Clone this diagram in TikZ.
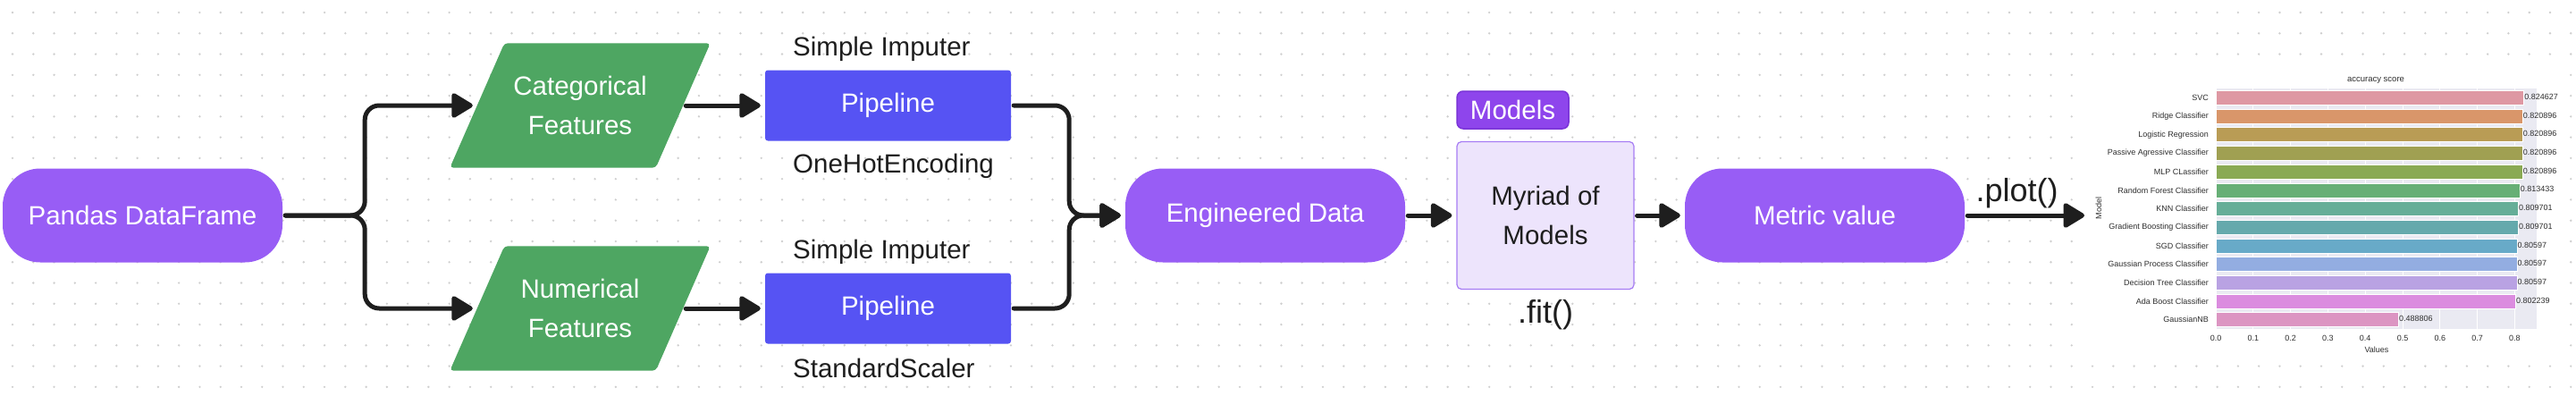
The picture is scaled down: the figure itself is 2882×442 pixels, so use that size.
\documentclass[tikz,border=0pt]{standalone}
\usepackage{fontspec}
\setmainfont{Liberation Sans}
\usepackage{xcolor}
\usetikzlibrary{arrows.meta,positioning,backgrounds}
\definecolor{ink}{HTML}{1E1E1E}
\definecolor{termpurple}{HTML}{985DF5}
\definecolor{featgreen}{HTML}{4EA662}
\definecolor{pipeblue}{HTML}{5653F3}
\definecolor{tagpurple}{HTML}{8E45EC}
\definecolor{tagedge}{HTML}{7A34D8}
\definecolor{lavender}{HTML}{EDE4FC}
\definecolor{lavedge}{HTML}{A67CF4}
\definecolor{dotgrey}{HTML}{CFCFCF}
\definecolor{axisbg}{HTML}{EAEAF2}
\definecolor{chartink}{HTML}{2E2E2E}
\definecolor{barA}{HTML}{DE98A3}
\definecolor{barB}{HTML}{D9966A}
\definecolor{barC}{HTML}{B99C55}
\definecolor{barD}{HTML}{A0A052}
\definecolor{barE}{HTML}{8AAA54}
\definecolor{barF}{HTML}{67AF76}
\definecolor{barG}{HTML}{66AE98}
\definecolor{barH}{HTML}{65A9AC}
\definecolor{barI}{HTML}{68AAC8}
\definecolor{barJ}{HTML}{93ADE1}
\definecolor{barK}{HTML}{B9A2E3}
\definecolor{barL}{HTML}{DB8CDF}
\definecolor{barM}{HTML}{DC95C2}
\newcommand{\flowfont}{\fontsize{29.5pt}{44pt}\selectfont}
\newcommand{\callfont}{\fontsize{36pt}{40pt}\selectfont}
\newcommand{\chartfont}{\fontsize{9pt}{11pt}\selectfont}
\tikzset{
  term/.style={fill=termpurple,rounded corners=42pt,minimum width=313pt,minimum height=105pt,
    inner sep=0pt,text=white,font=\flowfont},
  feat/.style={minimum width=230pt,minimum height=139pt,inner sep=0pt,text=white,align=center,font=\flowfont},
  pipe/.style={fill=pipeblue,rounded corners=3pt,minimum width=275pt,minimum height=79pt,
    inner sep=0pt,text=white,font=\flowfont},
  tag/.style={fill=tagpurple,draw=tagedge,line width=1.5pt,rounded corners=7pt,minimum width=125pt,
    minimum height=42pt,inner sep=0pt,text=white,font=\flowfont},
  modelbox/.style={fill=lavender,draw=lavedge,line width=1.2pt,rounded corners=5pt,minimum width=198pt,
    minimum height=165pt,inner sep=0pt,text=ink,align=center,font=\flowfont},
  note/.style={anchor=west,inner sep=0pt,text=ink,font=\flowfont},
  flow/.style={draw=ink,line width=5pt,line cap=round,-{Triangle[length=26pt,width=30pt,round]},
    shorten <=3pt,shorten >=5pt},
  chartlbl/.style={inner sep=0pt,text=chartink,font=\chartfont}
}

\begin{document}
\begin{tikzpicture}[x=1pt,y=-1pt]
  \useasboundingbox (0,0) rectangle (2882,442);

  % flow nodes
  \node[term] (pd) at (159.5,241) {Pandas DataFrame};
  \node[feat] (cat) at (649,118) {Categorical\\Features};
  \node[feat] (num) at (649,345) {Numerical\\Features};
  \node[pipe] (pcat) at (993.5,118) {Pipeline};
  \node[pipe] (pnum) at (993.5,345) {Pipeline};
  \node[note] (impcat) at (887,55) {Simple Imputer};
  \node[note] (ohe) at (887,186) {OneHotEncoding};
  \node[note] (impnum) at (887,282) {Simple Imputer};
  \node[note] (scaler) at (887,412) {StandardScaler};
  \node[term] (eng) at (1415.5,241) {Engineered Data};
  \node[tag] (tagm) at (1692.5,123) {Models};
  \node[modelbox] (myr) at (1729,241) {Myriad of\\Models};
  \node[inner sep=3pt,text=ink,font=\callfont,below=8pt of myr] (fit) {.fit()};
  \node[term] (met) at (2041.5,241) {Metric value};
  \coordinate (plotin) at (2337,241);

  % connectors
  \draw[flow,rounded corners=16pt] (pd.east) -- ++(92,0) |- (cat.west);
  \draw[flow,rounded corners=16pt] (pd.east) -- ++(92,0) |- (num.west);
  \draw[flow] (cat.east) -- (pcat.west);
  \draw[flow] (num.east) -- (pnum.west);
  \draw[flow,rounded corners=16pt] (pcat.east) -- ++(65,0) |- (eng.west);
  \draw[flow,rounded corners=16pt] (pnum.east) -- ++(65,0) |- (eng.west);
  \draw[flow] (eng.east) -- (myr.west);
  \draw[flow] (myr.east) -- (met.west);
  \draw[flow] (met.east) -- node[above,pos=0.42,inner sep=6pt,text=ink,font=\callfont] (plotlbl) {.plot()} (plotin);

  % bar chart
  \fill[axisbg] (2479,99) rectangle (2838,368);
  \foreach \k in {0,...,8} {
    \draw[white,line width=1pt] ({2479+41.8*\k},99) -- ({2479+41.8*\k},368);
    \node[chartlbl] (tick\k) at ({2479+41.8*\k},378) {0.\k};
  }
  \foreach \mdl/\val/\col [count=\i from 0] in {
      SVC/0.824627/barA,Ridge Classifier/0.820896/barB,Logistic Regression/0.820896/barC,
      Passive Agressive Classifier/0.820896/barD,MLP CLassifier/0.820896/barE,
      Random Forest Classifier/0.813433/barF,KNN Classifier/0.809701/barG,
      Gradient Boosting Classifier/0.809701/barH,SGD Classifier/0.80597/barI,
      Gaussian Process Classifier/0.80597/barJ,Decision Tree Classifier/0.80597/barK,
      Ada Boost Classifier/0.802239/barL,GaussianNB/0.488806/barM} {
    \pgfmathsetmacro{\yy}{109.3+20.7*\i}
    \pgfmathsetmacro{\xe}{2479+418*\val}
    \fill[\col,draw=white,line width=0.6pt] (2479,\yy-8) rectangle (\xe,\yy+8);
    \node[chartlbl,anchor=east] (mlab\i) at (2471,\yy) {\mdl};
    \node[chartlbl,anchor=west] (mval\i) at (\xe+0.5,\yy-1) {\val};
  }
  \node[chartlbl,font=\fontsize{9.5pt}{11pt}\selectfont] (ttl) at (2658,90) {accuracy score};
  \node[chartlbl] (xlab) at (2659,391) {Values};
  \node[chartlbl,rotate=90] (ylab) at (2348,233) {Model};

  % page, dot grid, shapes behind the nodes
  \begin{scope}[on background layer]
    \fill[white] (0,0) rectangle (2882,442);
    \foreach \i in {0,...,123} {
      \foreach \j in {0,...,18} {
        \fill[dotgrey] ({14+23.27*\i},{14+23.27*\j}) circle (1.3);
      }
    }
    \fill[white] (2325,70) rectangle (2866,398);
    \foreach \n in {cat,num} {
      \fill[featgreen,rounded corners=4pt] ([xshift=-30.5pt]\n.south west) -- ([xshift=-30.5pt]\n.south east)
        -- ([xshift=30.5pt]\n.north east) -- ([xshift=30.5pt]\n.north west) -- cycle;
    }
  \end{scope}
\end{tikzpicture}
\end{document}
